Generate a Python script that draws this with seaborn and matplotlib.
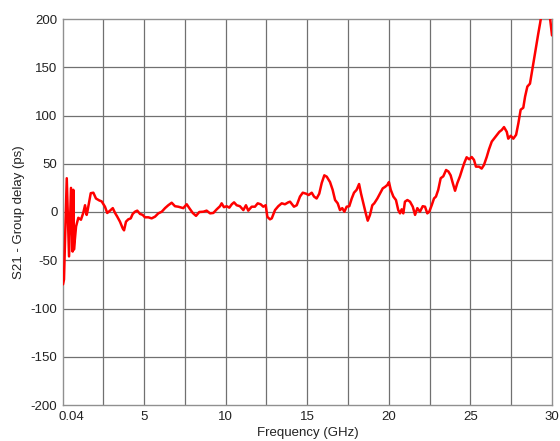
import matplotlib
matplotlib.use("Agg")
import matplotlib.pyplot as plt
import matplotlib.transforms as mtransforms
import seaborn as sns
import pandas as pd

freq_ghz = [0.04, 0.10, 0.27, 0.41, 0.53, 0.63, 0.67, 0.71, 0.84, 0.98, 1.14, 1.28, 1.39, 1.49,
            1.53, 1.74, 1.90, 2.06, 2.26, 2.41, 2.61, 2.75, 2.92, 3.09, 3.23, 3.37, 3.53, 3.70,
            3.78, 3.90, 4.04, 4.19, 4.31, 4.45, 4.59, 4.76, 4.92, 5.06, 5.27, 5.47, 5.68, 5.88,
            6.09, 6.29, 6.49, 6.70, 6.90, 7.10, 7.21, 7.41, 7.62, 7.78, 7.99, 8.19, 8.39, 8.64,
            8.84, 9.05, 9.25, 9.46, 9.66, 9.76, 9.90, 10.07, 10.23, 10.38, 10.52, 10.68, 10.88,
            11.09, 11.25, 11.39, 11.60, 11.80, 11.97, 12.15, 12.31, 12.46, 12.56, 12.72, 12.83,
            13.03, 13.23, 13.44, 13.64, 13.84, 13.95, 14.19, 14.36, 14.56, 14.73, 14.93, 15.09,
            15.28, 15.42, 15.58, 15.74, 15.89, 16.05, 16.20, 16.40, 16.56, 16.71, 16.87, 17.01,
            17.15, 17.28, 17.42, 17.58, 17.73, 17.87, 18.03, 18.18, 18.30, 18.44, 18.59, 18.71,
            18.85, 18.99, 19.11, 19.30, 19.46, 19.63, 19.77, 19.91, 20.01, 20.12, 20.28, 20.44,
            20.58, 20.69, 20.79, 20.89, 20.99, 21.14, 21.30, 21.47, 21.61, 21.75, 21.91, 22.08,
            22.22, 22.36, 22.48, 22.63, 22.77, 22.89, 23.03, 23.18, 23.34, 23.51, 23.65, 23.79,
            23.92, 24.06, 24.20, 24.36, 24.51, 24.63, 24.77, 24.93, 25.08, 25.22, 25.34, 25.53,
            25.69, 25.83, 26.00, 26.14, 26.31, 26.45, 26.61, 26.77, 26.92, 27.06, 27.23, 27.32,
            27.47, 27.63, 27.80, 27.94, 28.08, 28.24, 28.35, 28.49, 28.65, 28.76, 28.86, 28.96,
            29.06, 29.16, 29.27, 29.36, 29.45, 29.63, 29.82, 29.88, 30.00]

group_delay_ps = [-75, -70, 35, -46, 25, -41, 23, -39, -15, -6, -8, -1, 7, -3,
                  0, 19.5, 20, 14, 12, 11, 5.5, -1, 1.4, 4, -1, -5, -10, -17,
                  -19, -10, -7.6, -6.6, -2, 0.3, 1.4, -2, -3, -5.5, -5.5, -6.6, -4.8, -1.4,
                  0.3, 4, 7, 9.6, 6, 5.5, 5, 4, 8, 4, -1, -4, 0, 0.3,
                  1.4, -1.4, -1, 2.8, 6, 9, 5, 6, 4.5, 8, 10, 7, 6,
                  2, 7, 1.4, 5.5, 5.5, 9, 8, 5.5, 7, -5, -7.6, -6.6,
                  2, 6, 9, 8, 10, 10.7, 5.5, 7, 16, 20, 19, 17.6,
                  20, 16, 14, 19, 30, 38, 36.6, 31, 23, 12.4, 9, 2,
                  4, 0.3, 5.5, 6, 14, 20, 23, 29, 19, 9, -1.4, -9,
                  -3, 7, 9, 14, 19, 24.5, 26, 28, 31, 23, 16, 12.4,
                  2, -1.4, 2.8, -1.4, 10.7, 12.4, 10.7, 5.5, -3, 4, 0.3, 6,
                  5.5, -1.4, 0.3, 7, 14, 16, 23, 35, 37, 43.5, 42, 38,
                  30, 22, 30, 37, 45, 51, 56.7, 54.6, 57, 54, 47, 47,
                  45, 48.7, 57, 65, 73, 76, 79.5, 83, 85, 88, 83, 76,
                  79, 76, 80, 92, 106, 108, 119.5, 130, 133, 144, 154, 164.5,
                  175, 185, 195.5, 205, 215, 220, 205, 201, 183]

x_ticks = [0.04, 5, 10, 15, 20, 25, 30]
x_tick_labels = ["0.04", "5", "10", "15", "20", "25", "30"]
x_grid = [2.5, 5, 7.5, 10, 12.5, 15, 17.5, 20, 22.5, 25, 27.5]
y_ticks = [-200, -150, -100, -50, 0, 50, 100, 150, 200]

df = pd.DataFrame({"freq": freq_ghz, "delay": group_delay_ps})

sns.set_style("white")
plt.rcParams["font.family"] = ["Liberation Sans", "DejaVu Sans"]
plt.rcParams["axes.unicode_minus"] = False

fig = plt.figure(figsize=(5.6, 4.41), dpi=100)
ax = fig.add_axes([63 / 560, 1 - 405 / 441, (552 - 63) / 560, (405 - 19) / 441])

grid_color = "#707070"
for gx in x_grid:
    ax.axvline(gx, color=grid_color, lw=0.9, zorder=1)
for gy in y_ticks[1:-1]:
    ax.axhline(gy, color=grid_color, lw=0.9, zorder=1)

sns.lineplot(data=df, x="freq", y="delay", color="#ff0000", linewidth=1.8, ax=ax,
             zorder=3, estimator=None, sort=False)

ax.set_xlim(0.04, 30)
ax.set_ylim(-200, 200)
ax.set_xticks(x_ticks)
ax.set_xticklabels(x_tick_labels)
ax.set_yticks(y_ticks)
ax.tick_params(axis="both", length=0, labelsize=9.5, colors="#222222", pad=4)
for s in ax.spines.values():
    s.set_color("#909090")
    s.set_linewidth(1.0)

# shift the first x label slightly right as in the reference
first = ax.get_xticklabels()[0]
first.set_transform(first.get_transform() + mtransforms.ScaledTranslation(8 / 100, 0, fig.dpi_scale_trans))

ax.set_xlabel("Frequency (GHz)", fontsize=9.5, color="#222222", labelpad=3)
ax.set_ylabel("S21 - Group delay (ps)", fontsize=9.5, color="#222222", labelpad=4)

fig.savefig("out.png", dpi=100)
